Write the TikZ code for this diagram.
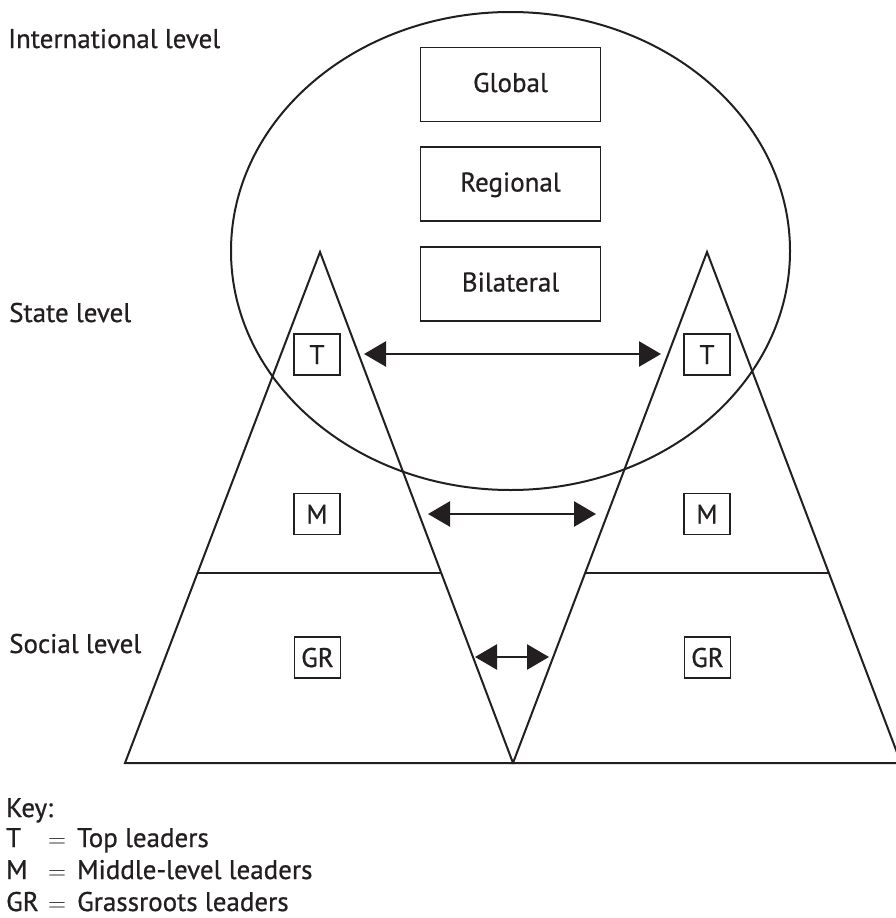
\documentclass[tikz,border=0pt]{standalone}
\usepackage{fontspec}
\setmainfont{PT Sans}[FakeBold=0.7]
\usetikzlibrary{arrows.meta,shapes.geometric,calc}
\definecolor{ink}{HTML}{231F20}
\begin{document}
\begin{tikzpicture}[x=1pt,y=-1pt,
  every node/.style={text=ink},
  txt/.style={anchor=base west, inner sep=0pt, font=\fontsize{27}{30}\selectfont},
  bigbox/.style={draw=ink, line width=1.3pt, minimum width=180pt, minimum height=74pt,
    inner sep=0pt, text height=19pt, text depth=4pt, font=\fontsize{27}{30}\selectfont},
  smallbox/.style={draw=ink, line width=1.3pt, minimum width=46pt, minimum height=41pt,
    inner sep=0pt, text height=19pt, text depth=0pt, font=\fontsize{27}{30}\selectfont},
  outline/.style={draw=ink, line width=2pt, line join=miter},
  link/.style={draw=ink, line width=2.6pt,
    {Triangle[length=22pt,width=25pt]}-{Triangle[length=22pt,width=25pt]}}
]
\useasboundingbox (0,0) rectangle (895,918);

% international ellipse
\node[ellipse, draw=ink, line width=2pt, minimum width=559pt, minimum height=478pt,
  inner sep=0pt] (intl) at (510.5,251) {};

% triangles
\coordinate (LA) at (320,252);
\coordinate (LL) at (125,763);
\coordinate (LR) at (513,763);
\coordinate (RA) at (707,252);
\coordinate (RL) at (513,763);
\coordinate (RR) at (901,763);
\draw[outline] (LA) -- (LL) -- (LR) -- cycle;
\draw[outline] (RA) -- (RL) -- (RR) -- cycle;
\draw[outline] ($(LA)!0.628!(LL)$) -- ($(LA)!0.628!(LR)$);
\draw[outline] ($(RA)!0.628!(RL)$) -- ($(RA)!0.628!(RR)$);

% international boxes
\node[bigbox] (global) at (510.5,84.5) {Global};
\node[bigbox] (regional) at (510.5,184) {Regional};
\node[bigbox] (bilateral) at (510.5,284) {Bilateral};

% leader boxes
\node[smallbox] (T1) at (317,354.5) {T};
\node[smallbox] (M1) at (317,514) {M};
\node[smallbox] (G1) at (317.5,657.5) {GR};
\node[smallbox] (T2) at (707,354.5) {T};
\node[smallbox] (M2) at (707,514) {M};
\node[smallbox] (G2) at (707.5,657.5) {GR};

% arrows
\coordinate (aT1) at (364,354);
\coordinate (aT2) at (661,354);
\coordinate (aM1) at (428,514);
\coordinate (aM2) at (596,514);
\coordinate (aG1) at (475,657);
\coordinate (aG2) at (549,657);
\draw[link] (aT1) -- (aT2);
\draw[link] (aM1) -- (aM2);
\draw[link] (aG1) -- (aG2);

% level labels
\node[txt] (lint) at (8,48) {International level};
\node[txt] (lstate) at (9,322) {State level};
\node[txt] (lsocial) at (9,653) {Social level};

% key
\node[txt] (key) at (6,817) {Key:};
\node[txt] (kT) at (6,847) {T};
\node[txt] (kTe) at (48,847) {\fontsize{24}{26}\selectfont$=$};
\node[txt] (kTt) at (77,847) {Top leaders};
\node[txt] (kM) at (6,879) {M};
\node[txt] (kMe) at (48,879) {\fontsize{24}{26}\selectfont$=$};
\node[txt] (kMt) at (77,879) {Middle-level leaders};
\node[txt] (kG) at (6,911) {GR};
\node[txt] (kGe) at (48,911) {\fontsize{24}{26}\selectfont$=$};
\node[txt] (kGt) at (77,911) {Grassroots leaders};
\end{tikzpicture}
\end{document}
